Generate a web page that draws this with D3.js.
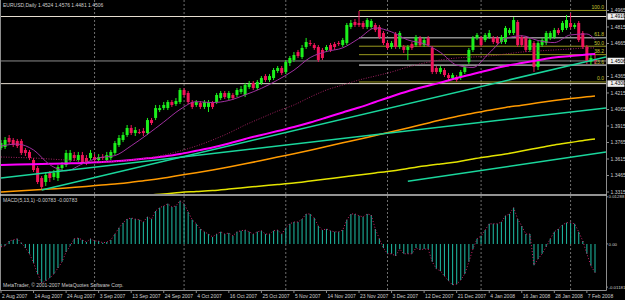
<!DOCTYPE html>
<html>
<head>
<meta charset="utf-8">
<script src="https://cdnjs.cloudflare.com/ajax/libs/d3/7.8.5/d3.min.js"></script>
<style>
  html, body { margin: 0; padding: 0; background: #000; }
  svg { display: block; font-family: "Liberation Sans", Arial, sans-serif; }
</style>
</head>
<body>
<svg id="chart" width="625" height="300"></svg>
<script>
// ---- data (bar index 0 = 2 Aug 2007) ----
const open = [
  1.3715,1.3724,1.3806,1.3788,1.3779,1.3779,1.3697,1.3679,1.3606,1.3533,
  1.3442,1.3406,1.3488,1.3451,1.3442,1.3533,1.3560,1.3606,1.3651,1.3606,
  1.3651,1.3624,1.3624,1.3633,1.3606,1.3633,1.3606,1.3624,1.3670,1.3742,
  1.3788,1.3833,1.3897,1.3851,1.3860,1.3869,1.3851,1.3969,1.3988,1.4060,
  1.4078,1.4078,1.4133,1.4115,1.4133,1.4242,1.4215,1.4133,1.4106,1.4124,
  1.4088,1.4088,1.4124,1.4133,1.4169,1.4215,1.4169,1.4197,1.4197,1.4224,
  1.4197,1.4269,1.4306,1.4260,1.4306,1.4369,1.4333,1.4351,1.4415,1.4442,
  1.4406,1.4487,1.4515,1.4587,1.4542,1.4633,1.4669,1.4651,1.4633,1.4606,
  1.4606,1.4651,1.4660,1.4669,1.4651,1.4669,1.4815,1.4860,1.4851,1.4851,
  1.4815,1.4815,1.4833,1.4815,1.4760,1.4669,1.4633,1.4751,1.4633,1.4633,
  1.4606,1.4660,1.4651,1.4715,1.4651,1.4715,1.4624,1.4442,1.4406,1.4424,
  1.4378,1.4351,1.4360,1.4360,1.4406,1.4497,1.4606,1.4715,1.4715,1.4696,
  1.4724,1.4715,1.4715,1.4678,1.4678,1.4760,1.4760,1.4860,1.4724,1.4715,
  1.4606,1.4669,1.4451,1.4651,1.4669,1.4715,1.4724,1.4787,1.4787,1.4806,
  1.4851,1.4815,1.4851,1.4760,1.4633,1.4497,1.4524
];
const high = [
  1.3788,1.3815,1.3833,1.3806,1.3797,1.3797,1.3715,1.3697,1.3624,1.3551,
  1.3460,1.3497,1.3506,1.3515,1.3560,1.3588,1.3697,1.3697,1.3679,1.3679,
  1.3679,1.3651,1.3697,1.3660,1.3660,1.3660,1.3679,1.3697,1.3779,1.3833,
  1.3860,1.3924,1.3924,1.3906,1.3888,1.3897,1.3988,1.3988,1.4106,1.4106,
  1.4133,1.4151,1.4151,1.4169,1.4260,1.4260,1.4233,1.4151,1.4151,1.4142,
  1.4151,1.4151,1.4142,1.4215,1.4233,1.4233,1.4233,1.4215,1.4260,1.4278,
  1.4306,1.4324,1.4324,1.4333,1.4369,1.4387,1.4387,1.4442,1.4460,1.4460,
  1.4515,1.4551,1.4587,1.4606,1.4651,1.4715,1.4696,1.4669,1.4651,1.4624,
  1.4651,1.4669,1.4678,1.4687,1.4715,1.4851,1.4878,1.4887,1.4960,1.4869,
  1.4896,1.4887,1.4851,1.4833,1.4778,1.4687,1.4687,1.4769,1.4778,1.4651,
  1.4651,1.4678,1.4742,1.4733,1.4724,1.4733,1.4642,1.4460,1.4460,1.4442,
  1.4397,1.4397,1.4378,1.4424,1.4469,1.4624,1.4733,1.4760,1.4733,1.4760,
  1.4787,1.4733,1.4733,1.4742,1.4824,1.4806,1.4905,1.4878,1.4742,1.4733,
  1.4715,1.4687,1.4687,1.4715,1.4778,1.4778,1.4806,1.4806,1.4869,1.4924,
  1.4942,1.4851,1.4869,1.4778,1.4651,1.4560,1.4576
];
const low = [
  1.3697,1.3706,1.3751,1.3724,1.3715,1.3651,1.3642,1.3606,1.3497,1.3388,
  1.3333,1.3370,1.3406,1.3424,1.3415,1.3515,1.3542,1.3588,1.3597,1.3588,
  1.3570,1.3560,1.3606,1.3588,1.3588,1.3606,1.3588,1.3606,1.3651,1.3724,
  1.3769,1.3815,1.3833,1.3824,1.3842,1.3824,1.3833,1.3924,1.3969,1.4042,
  1.4060,1.4060,1.4088,1.4097,1.4115,1.4178,1.4115,1.4069,1.4088,1.4069,
  1.4069,1.4042,1.4069,1.4115,1.4151,1.4160,1.4151,1.4151,1.4178,1.4206,
  1.4178,1.4251,1.4242,1.4242,1.4288,1.4315,1.4315,1.4333,1.4397,1.4378,
  1.4387,1.4460,1.4497,1.4533,1.4524,1.4615,1.4642,1.4606,1.4497,1.4515,
  1.4587,1.4587,1.4606,1.4642,1.4633,1.4651,1.4796,1.4815,1.4815,1.4796,
  1.4796,1.4796,1.4769,1.4706,1.4651,1.4606,1.4615,1.4615,1.4615,1.4578,
  1.4515,1.4606,1.4633,1.4633,1.4633,1.4633,1.4387,1.4387,1.4387,1.4360,
  1.4333,1.4333,1.4315,1.4333,1.4387,1.4478,1.4587,1.4696,1.4633,1.4678,
  1.4706,1.4660,1.4651,1.4660,1.4660,1.4742,1.4742,1.4633,1.4633,1.4587,
  1.4587,1.4406,1.4424,1.4633,1.4651,1.4696,1.4706,1.4742,1.4769,1.4787,
  1.4796,1.4796,1.4678,1.4615,1.4478,1.4469,1.4481
];
const close = [
  1.3760,1.3788,1.3769,1.3742,1.3733,1.3670,1.3670,1.3624,1.3515,1.3406,
  1.3361,1.3470,1.3442,1.3488,1.3542,1.3560,1.3670,1.3670,1.3624,1.3651,
  1.3588,1.3588,1.3670,1.3606,1.3633,1.3629,1.3651,1.3679,1.3760,1.3806,
  1.3833,1.3897,1.3851,1.3878,1.3858,1.3851,1.3969,1.3942,1.4078,1.4078,
  1.4106,1.4133,1.4106,1.4142,1.4242,1.4197,1.4133,1.4088,1.4133,1.4088,
  1.4133,1.4133,1.4088,1.4197,1.4215,1.4178,1.4215,1.4169,1.4242,1.4251,
  1.4288,1.4297,1.4260,1.4315,1.4351,1.4333,1.4369,1.4424,1.4442,1.4397,
  1.4497,1.4533,1.4560,1.4551,1.4624,1.4678,1.4665,1.4624,1.4515,1.4533,
  1.4633,1.4606,1.4633,1.4660,1.4696,1.4833,1.4851,1.4833,1.4833,1.4815,
  1.4878,1.4869,1.4787,1.4724,1.4669,1.4624,1.4669,1.4633,1.4760,1.4606,
  1.4633,1.4624,1.4724,1.4651,1.4696,1.4651,1.4406,1.4406,1.4442,1.4378,
  1.4351,1.4378,1.4333,1.4406,1.4451,1.4606,1.4715,1.4742,1.4651,1.4742,
  1.4760,1.4678,1.4669,1.4724,1.4806,1.4787,1.4878,1.4651,1.4651,1.4606,
  1.4696,1.4451,1.4669,1.4696,1.4760,1.4760,1.4787,1.4760,1.4851,1.4878,
  1.4815,1.4833,1.4696,1.4633,1.4497,1.4533,1.4506
];

// moving averages, sampled every 4 bars
const maIdx = [0,4,8,12,16,20,24,28,32,36,40,44,48,52,56,60,64,68,72,76,
               80,84,88,92,96,100,104,108,112,116,120,124,128,132,136,140,144,146];
const maFast = [1.3733,1.3751,1.3697,1.3563,1.3508,1.3570,1.3626,1.3646,1.3735,1.3839,
                1.3951,1.4065,1.4136,1.4128,1.4147,1.4198,1.4257,1.4333,1.4422,1.4537,
                1.4592,1.4625,1.4711,1.4806,1.4770,1.4697,1.4662,1.4584,1.4469,1.4447,
                1.4578,1.4709,1.4735,1.4692,1.4673,1.4743,1.4751,1.4699];
const maMid = [1.3633,1.3629,1.3624,1.3615,1.3606,1.3597,1.3588,1.3592,1.3606,1.3624,
               1.3651,1.3688,1.3733,1.3788,1.3851,1.3924,1.3988,1.4051,1.4106,1.4178,
               1.4242,1.4288,1.4333,1.4369,1.4406,1.4451,1.4487,1.4515,1.4533,1.4542,
               1.4551,1.4569,1.4587,1.4597,1.4606,1.4615,1.4624,1.4624];
const maSlow = [1.3560,1.3564,1.3568,1.3571,1.3575,1.3579,1.3586,1.3594,1.3606,1.3621,
                1.3638,1.3660,1.3690,1.3720,1.3756,1.3797,1.3833,1.3869,1.3906,1.3947,
                1.3992,1.4038,1.4083,1.4133,1.4183,1.4230,1.4271,1.4309,1.4351,1.4387,
                1.4424,1.4460,1.4487,1.4513,1.4537,1.4551,1.4565,1.4569];
const ma200 = [1.3315,1.3324,1.3333,1.3342,1.3351,1.3362,1.3376,1.3388,1.3404,1.3421,
               1.3442,1.3467,1.3490,1.3515,1.3542,1.3571,1.3601,1.3633,1.3663,1.3695,
               1.3729,1.3762,1.3795,1.3829,1.3862,1.3897,1.3933,1.3969,1.4002,1.4030,
               1.4058,1.4083,1.4104,1.4126,1.4146,1.4164,1.4180,1.4188];
const maLong = [1.3197,1.3206,1.3215,1.3224,1.3238,1.3247,1.3256,1.3265,1.3274,1.3288,
                1.3297,1.3311,1.3320,1.3329,1.3342,1.3356,1.3370,1.3383,1.3397,1.3415,
                1.3433,1.3451,1.3470,1.3488,1.3506,1.3529,1.3551,1.3570,1.3588,1.3615,
                1.3638,1.3660,1.3688,1.3715,1.3742,1.3765,1.3788,1.3797];

// trend lines: [bar index, price] pairs
const trendLines = [
  [[10, 1.3333], [146, 1.4518]],
  [[0, 1.3443], [146, 1.4067]],
  [[100, 1.3412], [146, 1.3664]]
];
const hLines = [1.4910, 1.4300];
const fiboHigh = 1.4965, fiboLow = 1.4315, fiboFrom = 88;
const fiboLevels = [0, 23.6, 38.2, 50, 61.8, 100];

// MACD(5,13,1) histogram
const macd = [
  -0.0008,-0.0005,0.0008,0.0011,0.0014,0.0003,-0.0011,-0.0027,-0.0052,-0.0082,
  -0.0107,-0.0101,-0.0093,-0.0082,-0.0066,-0.0049,-0.0022,-0.0005,0.0014,0.0016,
  0.0011,0.0005,0.0014,0.0008,0.0008,0.0003,0.0005,0.0011,0.0027,0.0044,
  0.0058,0.0068,0.0071,0.0068,0.0066,0.0060,0.0074,0.0068,0.0090,0.0099,
  0.0104,0.0110,0.0101,0.0104,0.0118,0.0110,0.0088,0.0066,0.0055,0.0041,
  0.0033,0.0027,0.0019,0.0027,0.0033,0.0027,0.0030,0.0022,0.0033,0.0036,
  0.0038,0.0033,0.0027,0.0033,0.0036,0.0027,0.0027,0.0036,0.0038,0.0027,
  0.0044,0.0055,0.0060,0.0060,0.0068,0.0082,0.0082,0.0071,0.0049,0.0038,
  0.0041,0.0036,0.0033,0.0033,0.0038,0.0066,0.0082,0.0082,0.0077,0.0074,
  0.0082,0.0079,0.0041,0.0014,-0.0011,-0.0027,-0.0027,-0.0033,-0.0014,-0.0027,
  -0.0027,-0.0027,-0.0011,-0.0016,-0.0014,-0.0014,-0.0049,-0.0068,-0.0074,-0.0088,
  -0.0101,-0.0112,-0.0110,-0.0099,-0.0082,-0.0049,-0.0014,0.0014,0.0022,0.0038,
  0.0055,0.0055,0.0055,0.0060,0.0077,0.0082,0.0099,0.0068,0.0049,0.0027,
  0.0027,-0.0058,-0.0041,-0.0027,-0.0008,0.0014,0.0033,0.0041,0.0052,0.0058,
  0.0058,0.0055,0.0033,0.0008,-0.0027,-0.0060,-0.00783
];

const priceTicks = [1.4965,1.4815,1.4665,1.4365,1.4215,1.4065,1.3915,1.3765,1.3615,1.3465,1.3315];
const macdTicks = [0.01288, 0, -0.01181];
const macdTickLabels = ["0.01288", "0.00", "-0.01181"];
const dateLabels = ["2 Aug 2007","14 Aug 2007","24 Aug 2007","3 Sep 2007","13 Sep 2007",
  "24 Sep 2007","4 Oct 2007","16 Oct 2007","25 Oct 2007","5 Nov 2007","14 Nov 2007",
  "23 Nov 2007","3 Dec 2007","12 Dec 2007","21 Dec 2007","4 Jan 2008","16 Jan 2008",
  "28 Jan 2008","7 Feb 2008"];
const dateIdx = [0,8,16,24,32,40,48,56,64,72,80,88,96,104,112,120,128,136,144];
const monthStart = [23, 45, 70, 95, 118, 140];

// ---- layout ----
const W = 625, H = 300;
const axisX = 606, mainB = 194, macdT = 196, macdB = 290;
const txt = "#cfcfcf";

const svg = d3.select("#chart");
svg.append("rect").attr("width", W).attr("height", H).attr("fill", "#000");

const x = d3.scaleLinear().domain([0, 146]).range([1, 595]);
const y = d3.scaleLinear().domain([1.3297, 1.5060]).range([mainB, 0]);
const ym = d3.scaleLinear().domain([-0.0126, 0.0131]).range([macdB, macdT]);

const defs = svg.append("defs");
defs.append("clipPath").attr("id", "clipMain")
  .append("rect").attr("x", 0).attr("y", 0).attr("width", axisX).attr("height", mainB);
defs.append("clipPath").attr("id", "clipMacd")
  .append("rect").attr("x", 0).attr("y", macdT).attr("width", axisX).attr("height", macdB - macdT);

// month separators
svg.append("g").selectAll("line").data(monthStart).enter().append("line")
  .attr("x1", d => x(d)).attr("x2", d => x(d)).attr("y1", 0).attr("y2", macdB)
  .attr("stroke", "#8a8a8a").attr("stroke-width", 0.8).attr("stroke-dasharray", "2,2");

const main = svg.append("g").attr("clip-path", "url(#clipMain)");

// horizontal lines and bid line
main.selectAll("line.h").data(hLines).enter().append("line").attr("class", "h")
  .attr("x1", 0).attr("x2", axisX).attr("y1", d => y(d)).attr("y2", d => y(d))
  .attr("stroke", "#e6ddd0").attr("stroke-width", 1);
main.append("line")
  .attr("x1", 0).attr("x2", axisX).attr("y1", y(close[146])).attr("y2", y(close[146]))
  .attr("stroke", "#8c8c8c").attr("stroke-width", 1);

// fibonacci levels
const fibY = lv => fiboLow + (fiboHigh - fiboLow) * lv / 100;
main.selectAll("line.fib").data(fiboLevels).enter().append("line").attr("class", "fib")
  .attr("x1", x(fiboFrom)).attr("x2", axisX)
  .attr("y1", d => y(fibY(d))).attr("y2", d => y(fibY(d)))
  .attr("stroke", d => (d === 61.8 || d === 23.6) ? "#8e8e8e" : "#9a9a1e")
  .attr("stroke-width", d => (d === 61.8 || d === 23.6) ? 1.6 : 1);
main.selectAll("text.fib").data(fiboLevels).enter().append("text").attr("class", "fib")
  .attr("x", axisX - 2).attr("y", d => y(fibY(d)) - 1.5)
  .attr("text-anchor", "end").attr("font-size", 5).attr("fill", "#c8c830")
  .text(d => d.toFixed(1));

// candles
const bars = d3.range(open.length).map(i => ({ i, o: open[i], h: high[i], l: low[i], c: close[i] }));
const col = d => d.c >= d.o ? "#1cf01c" : "#f0145a";
const cg = main.append("g");
cg.selectAll("line").data(bars).enter().append("line")
  .attr("x1", d => x(d.i)).attr("x2", d => x(d.i))
  .attr("y1", d => y(d.h)).attr("y2", d => y(d.l))
  .attr("stroke", col).attr("stroke-width", 1);
cg.selectAll("rect").data(bars).enter().append("rect")
  .attr("x", d => x(d.i) - 1.5).attr("width", 3)
  .attr("y", d => y(Math.max(d.o, d.c)))
  .attr("height", d => Math.max(1, Math.abs(y(d.o) - y(d.c))))
  .attr("fill", col);

// moving averages
const maLine = vals => d3.line().curve(d3.curveMonotoneX)
  .x((d, k) => x(maIdx[k])).y(d => y(d))(vals);
[
  { v: maLong, c: "#e4e400", w: 1.5 },
  { v: ma200, c: "#ff9a00", w: 1.5 },
  { v: maSlow, c: "#ff00ff", w: 2 },
  { v: maMid, c: "#a02060", w: 1, dash: "1,1.5" },
  { v: maFast, c: "#a030a0", w: 1 }
].forEach(m => {
  main.append("path").attr("d", maLine(m.v)).attr("fill", "none")
    .attr("stroke", m.c).attr("stroke-width", m.w)
    .attr("stroke-dasharray", m.dash || null);
});

// trend lines (extended to the right edge)
const xEnd = x.invert(axisX);
main.selectAll("line.tl").data(trendLines).enter().append("line").attr("class", "tl")
  .attr("x1", d => x(d[0][0]))
  .attr("y1", d => y(d[0][1]))
  .attr("x2", x(xEnd))
  .attr("y2", d => y(d[0][1] + (d[1][1] - d[0][1]) * (xEnd - d[0][0]) / (d[1][0] - d[0][0])))
  .attr("stroke", "#1ad69c").attr("stroke-width", 1.5);

// MACD panel
const mg = svg.append("g").attr("clip-path", "url(#clipMacd)");
mg.selectAll("line").data(macd).enter().append("line")
  .attr("x1", (d, i) => x(i)).attr("x2", (d, i) => x(i))
  .attr("y1", ym(0)).attr("y2", d => ym(d))
  .attr("stroke", "#1cae98").attr("stroke-width", 1.1);
mg.append("path")
  .attr("d", d3.line().x((d, i) => x(i)).y(d => ym(d))(macd))
  .attr("fill", "none").attr("stroke", "#d0206c").attr("stroke-width", 1)
  .attr("stroke-dasharray", "1,2");

// frame
const frame = svg.append("g").attr("stroke", "#8c8c8c").attr("stroke-width", 1);
frame.append("line").attr("x1", 0.5).attr("x2", 0.5).attr("y1", 0).attr("y2", macdB);
frame.append("line").attr("x1", axisX + 0.5).attr("x2", axisX + 0.5).attr("y1", 0).attr("y2", macdB + 0.5);
frame.append("line").attr("x1", 0).attr("x2", axisX + 0.5).attr("y1", macdB + 0.5).attr("y2", macdB + 0.5);
svg.append("line").attr("x1", 0).attr("x2", axisX + 0.5).attr("y1", mainB + 1).attr("y2", mainB + 1)
  .attr("stroke", "#c4c4c4").attr("stroke-width", 1.6);

// right price axis
const ax = svg.append("g").attr("font-size", 5);
ax.selectAll("line.pt").data(priceTicks).enter().append("line").attr("class", "pt")
  .attr("x1", axisX).attr("x2", axisX + 3).attr("y1", d => y(d)).attr("y2", d => y(d))
  .attr("stroke", "#8c8c8c");
ax.selectAll("text.pt").data(priceTicks).enter().append("text").attr("class", "pt")
  .attr("x", axisX + 4.5).attr("y", d => y(d) + 1.8).attr("fill", txt)
  .text(d => d.toFixed(4));
const boxed = [hLines[0], close[146], hLines[1]];
ax.selectAll("rect.bx").data(boxed).enter().append("rect").attr("class", "bx")
  .attr("x", axisX + 1.5).attr("y", d => y(d) - 3.2).attr("width", 17).attr("height", 6.4)
  .attr("fill", "#efefef");
ax.selectAll("text.bx").data(boxed).enter().append("text").attr("class", "bx")
  .attr("x", axisX + 4.5).attr("y", d => y(d) + 1.8).attr("fill", "#000")
  .text(d => d.toFixed(4));

// MACD axis
ax.selectAll("line.mt").data(macdTicks).enter().append("line").attr("class", "mt")
  .attr("x1", axisX).attr("x2", axisX + 2).attr("y1", d => ym(d)).attr("y2", d => ym(d))
  .attr("stroke", "#8c8c8c");
ax.selectAll("text.mt").data(macdTicks).enter().append("text").attr("class", "mt")
  .attr("x", axisX + 2.5).attr("y", d => ym(d) + 1.6).attr("fill", txt)
  .attr("font-size", 4.4)
  .text((d, k) => macdTickLabels[k]);

// date axis
ax.selectAll("line.dt").data(dateIdx).enter().append("line").attr("class", "dt")
  .attr("x1", d => x(d)).attr("x2", d => x(d)).attr("y1", macdB).attr("y2", macdB + 3)
  .attr("stroke", "#8c8c8c");
ax.selectAll("text.dt").data(dateIdx).enter().append("text").attr("class", "dt")
  .attr("x", d => x(d) + 1).attr("y", 298).attr("fill", txt)
  .text((d, k) => dateLabels[k]);

// titles
ax.append("text").attr("x", 3).attr("y", 7).attr("fill", txt)
  .text("EURUSD,Daily  " + [open[146], high[146], low[146], close[146]].map(v => v.toFixed(4)).join(" "));
ax.append("text").attr("x", 3).attr("y", 202).attr("fill", txt)
  .text("MACD(5,13,1) " + macd[146].toFixed(5) + " " + macd[146].toFixed(5));
ax.append("text").attr("x", 3).attr("y", 287).attr("fill", txt)
  .text("MetaTrader, \u00a9 2001-2007 MetaQuotes Software Corp.");
</script>
</body>
</html>
